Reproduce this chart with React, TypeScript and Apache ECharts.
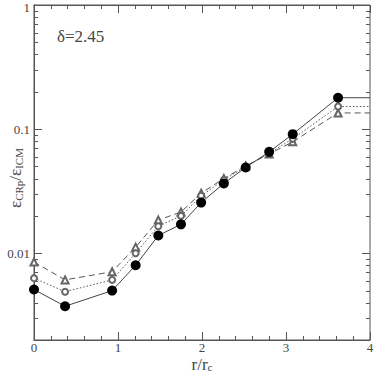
import React, { useEffect, useRef } from "react";
import * as echarts from "echarts";

const xVals = [0, 0.37, 0.93, 1.21, 1.48, 1.75, 1.99, 2.26, 2.52, 2.8, 3.08, 3.62];
const solidVals = [0.0051, 0.00374, 0.005, 0.008, 0.0139, 0.0171, 0.0256, 0.0365, 0.0491, 0.0656, 0.091, 0.179];
const dottedVals = [0.0063, 0.0049, 0.0061, 0.01, 0.0165, 0.02, 0.029, 0.039, 0.05, 0.064, 0.0835, 0.152];
const dashedVals = [0.0085, 0.0061, 0.0071, 0.0112, 0.0185, 0.0215, 0.0305, 0.04, 0.0505, 0.063, 0.079, 0.135];
const xEnd = 4;
const yTickVals = [
  0.003, 0.004, 0.005, 0.006, 0.007, 0.008, 0.009, 0.01,
  0.02, 0.03, 0.04, 0.05, 0.06, 0.07, 0.08, 0.09, 0.1,
  0.2, 0.3, 0.4, 0.5, 0.6, 0.7, 0.8, 0.9,
];
const yLabels: Record<string, string> = { "-2": "0.01", "-1": "0.1", "0": "{t|1}" };

const AX = "#555";
const TXT = "#444";
const FONT = "'Liberation Serif', 'DejaVu Serif', serif";

function build(vals: number[]) {
  const d: any[] = xVals.map((x, i) => [x, vals[i]]);
  d.push({ value: [xEnd, vals[vals.length - 1]], symbol: "none" });
  return d;
}

export default function App() {
  const ref = useRef<HTMLDivElement>(null);
  useEffect(() => {
    const chart = echarts.init(ref.current!, null, { renderer: "svg" });
    const isPow = (v: number) => {
      const l = Math.log10(v);
      return Math.abs(l - Math.round(l)) < 1e-6;
    };
    chart.setOption({
      animation: false,
      grid: {
        left: 34, right: 4, top: 5, bottom: 34, show: true, borderColor: AX, borderWidth: 1,
        containLabel: false, outerBoundsMode: "none",
      },
      xAxis: [
        {
          type: "value", min: 0, max: 4, interval: 1,
          axisLine: { lineStyle: { color: AX } },
          axisTick: { inside: true, length: 8, lineStyle: { color: AX } },
          minorTick: { show: true, splitNumber: 5, length: 4, lineStyle: { color: AX } },
          splitLine: { show: false },
          axisLabel: { color: TXT, fontSize: 13, lineHeight: 13, fontFamily: FONT, margin: 1 },
        },
        {
          type: "value", min: 0, max: 4, interval: 1, position: "top",
          axisLine: { lineStyle: { color: AX } },
          axisTick: { inside: true, length: 8, lineStyle: { color: AX } },
          minorTick: { show: true, splitNumber: 5, length: 4, lineStyle: { color: AX } },
          splitLine: { show: false },
          axisLabel: { show: false },
        },
      ],
      yAxis: {
        type: "log", logBase: 10, min: 0.002, max: 1,
        axisLine: { show: true, lineStyle: { color: AX } },
        axisTick: { show: false },
        splitLine: { show: false },
        axisLabel: {
          color: TXT, fontSize: 13, fontFamily: FONT, margin: 4,
          showMinLabel: false,
          formatter: (v: number) => {
            if (!isPow(v)) return "";
            const k = String(Math.round(Math.log10(v)));
            return yLabels[k] ?? "";
          },
          rich: { t: { fontSize: 13, fontFamily: FONT, color: TXT, padding: [5, 0, 0, 0] } },
        },
      },
      graphic: [
        {
          type: "text", left: 57, top: 28,
          style: { text: "\u03b4=2.45", fontSize: 17, fontFamily: FONT, fill: TXT },
        },
        {
          type: "text", x: 202, y: 364,
          style: {
            text: "r/r{s|c}", fontSize: 17, lineHeight: 17, fontFamily: FONT, fill: TXT,
            align: "center", verticalAlign: "middle",
            rich: { s: { fontSize: 11, lineHeight: 11, fontFamily: FONT, fill: TXT, verticalAlign: "bottom", padding: [4, 0, 0, 0] } },
          },
        },
        {
          type: "text", x: 15, y: 178, rotation: Math.PI / 2,
          style: {
            text: "\u03b5{s|CRp}/\u03b5{s|ICM}", fontSize: 17, fontFamily: FONT, fill: TXT,
            align: "center", verticalAlign: "middle",
            rich: { s: { fontSize: 11, fontFamily: FONT, fill: TXT, verticalAlign: "bottom", padding: [8, 0, 0, 0] } },
          },
        },
      ],
      series: [
        {
          type: "custom",
          silent: true,
          xAxisIndex: 0,
          data: yTickVals.map((v) => [0, v]),
          encode: { x: 0, y: 1 },
          renderItem: (params: any, api: any) => {
            const v = api.value(1);
            const p = api.coord([0, v]);
            const cs = params.coordSys;
            const len = isPow(v) ? 8 : 4;
            const y = Math.round(p[1]) + 0.5;
            return {
              type: "group",
              children: [
                { type: "line", shape: { x1: cs.x, y1: y, x2: cs.x + len, y2: y }, style: { stroke: AX, lineWidth: 1 } },
                { type: "line", shape: { x1: cs.x + cs.width - len, y1: y, x2: cs.x + cs.width, y2: y }, style: { stroke: AX, lineWidth: 1 } },
              ],
            };
          },
        },
        {
          type: "line",
          data: build(dashedVals),
          symbol: "emptyTriangle",
          symbolSize: 7,
          lineStyle: { color: "#555", width: 1, type: [6, 4] },
          itemStyle: { color: "#666", borderWidth: 0.8 },
          z: 3,
        },
        {
          type: "line",
          data: build(dottedVals),
          symbol: "emptyCircle",
          symbolSize: 6,
          lineStyle: { color: "#555", width: 1, type: [1.5, 2] },
          itemStyle: { color: "#666", borderWidth: 0.8 },
          z: 4,
        },
        {
          type: "line",
          data: build(solidVals),
          symbol: "circle",
          symbolSize: 10,
          lineStyle: { color: "#444", width: 1 },
          itemStyle: { color: "#000" },
          z: 5,
        },
      ],
    });
    return () => chart.dispose();
  }, []);
  return <div ref={ref} style={{ width: 374, height: 374, position: "absolute", left: 0, top: 0 }} />;
}
